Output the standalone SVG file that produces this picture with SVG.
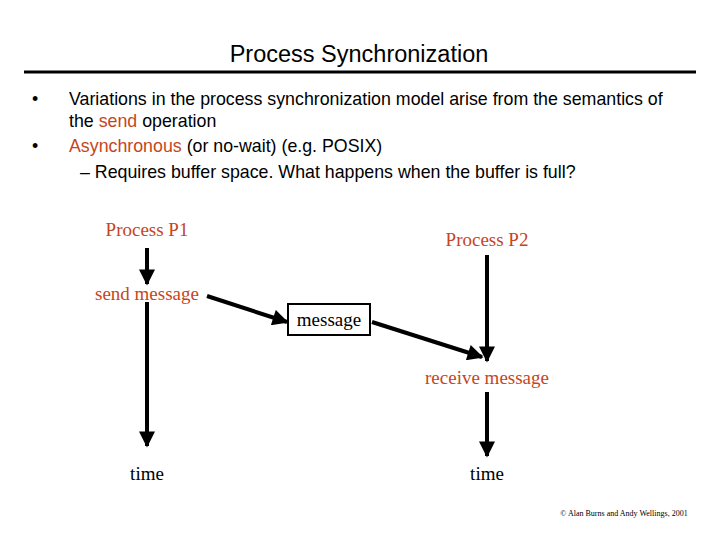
<svg xmlns="http://www.w3.org/2000/svg" width="720" height="540" viewBox="0 0 720 540">
<style>
.s{font-family:"Liberation Sans",Arial,sans-serif;font-size:17.8px;fill:#000}
.r{font-family:"Liberation Serif","Times New Roman",serif;font-size:19px}
.o{fill:#C5461E}
.l{stroke:#000;stroke-width:4;fill:none}
</style>
<defs><marker id="a" viewBox="0 0 10 10" refX="9" refY="5" markerWidth="4.5" markerHeight="4" orient="auto" markerUnits="strokeWidth"><path d="M0,0L10,5L0,10z" fill="#000"/></marker></defs>
<rect width="720" height="540" fill="#fff"/>
<text x="359" y="62" text-anchor="middle" style="font-family:'Liberation Sans',Arial,sans-serif;font-size:23.5px">Process Synchronization</text>
<line x1="24" y1="72" x2="696" y2="72" stroke="#000" stroke-width="3"/>
<text class="s" x="32" y="105" font-size="13">•</text>
<text class="s" x="69" y="105">Variations in the process synchronization model arise from the semantics of</text>
<text class="s" x="69" y="127">the <tspan class="o">send</tspan> operation</text>
<text class="s" x="32" y="152" font-size="13">•</text>
<text class="s" x="69" y="152"><tspan class="o">Asynchronous</tspan> (or no-wait) (e.g. POSIX)</text>
<text class="s" x="80" y="178">– Requires buffer space. What happens when the buffer is full?</text>
<g id="p1"><text class="r o" x="147" y="236" text-anchor="middle">Process P1</text></g>
<g id="p2"><text class="r o" x="487" y="246" text-anchor="middle">Process P2</text></g>
<g id="send"><text class="r o" x="147" y="300" text-anchor="middle">send message</text></g>
<g id="msg"><rect x="288" y="304" width="82" height="31" fill="#fff" stroke="#000" stroke-width="2"/><text class="r" x="329" y="326" text-anchor="middle">message</text></g>
<g id="recv"><text class="r o" x="487" y="384" text-anchor="middle">receive message</text></g>
<g id="t1"><text class="r" x="147" y="480" text-anchor="middle">time</text></g>
<g id="t2"><text class="r" x="487" y="480" text-anchor="middle">time</text></g>
<g id="connectors">
<line class="l" x1="147" y1="248" x2="147" y2="284" marker-end="url(#a)"/>
<line class="l" x1="147" y1="302" x2="147" y2="446" marker-end="url(#a)"/>
<line class="l" x1="487" y1="255" x2="487" y2="361" marker-end="url(#a)"/>
<line class="l" x1="207" y1="296" x2="287" y2="322" marker-end="url(#a)"/>
<line class="l" x1="372" y1="322" x2="482" y2="357" marker-end="url(#a)"/>
<line class="l" x1="487" y1="392" x2="487" y2="456" marker-end="url(#a)"/>
</g>
<text x="624" y="516" text-anchor="middle" style="font-family:'Liberation Serif',serif;font-size:8px">© Alan Burns and Andy Wellings, 2001</text>
</svg>
